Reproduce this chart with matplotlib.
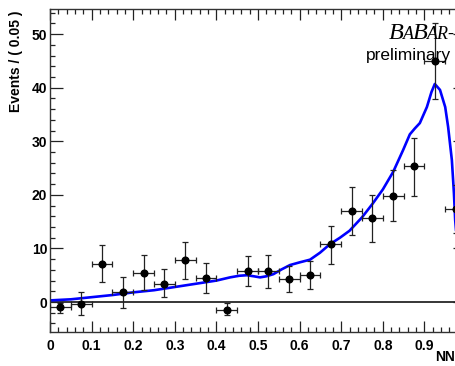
import numpy as np
import matplotlib
matplotlib.use('Agg')
import matplotlib.pyplot as plt
from matplotlib.ticker import MultipleLocator
from matplotlib.font_manager import FontProperties

# NN output bins (width 0.05) and measured events
nn_centres = [0.025, 0.075, 0.125, 0.175, 0.225, 0.275, 0.325, 0.375, 0.425, 0.475,
              0.525, 0.575, 0.625, 0.675, 0.725, 0.775, 0.825, 0.875, 0.925, 0.975]
events = [-1.0, -0.3, 7.1, 1.8, 5.4, 3.4, 7.8, 4.5, -1.5, 5.8,
          5.8, 4.3, 5.0, 10.8, 17.0, 15.7, 19.8, 25.3, 45.0, 17.3]
err_top = [-0.25, 1.8, 10.6, 4.7, 8.8, 6.1, 11.2, 7.3, -0.25, 8.6,
           8.8, 6.8, 7.6, 14.2, 21.5, 20.0, 24.6, 30.7, 52.1, 21.9]
err_bottom = [-2.0, -2.4, 3.7, -1.2, 2.2, 0.9, 4.3, 1.6, -2.4, 3.0,
              2.7, 1.8, 2.4, 7.1, 12.6, 11.2, 15.2, 19.8, 37.9, 12.9]
half_bin = 0.025

# fit curve
fit_x = [0.0, 0.05, 0.1, 0.15, 0.2, 0.25, 0.3, 0.35, 0.4, 0.433, 0.455, 0.473, 0.49,
         0.505, 0.52, 0.537, 0.557, 0.577, 0.6, 0.625, 0.649, 0.673, 0.697, 0.72,
         0.75, 0.775, 0.8, 0.825, 0.849, 0.865, 0.877, 0.889, 0.906, 0.917, 0.925,
         0.9375, 0.95, 0.957, 0.966, 0.971, 0.974, 0.985]
fit_y = [0.3, 0.5, 0.9, 1.3, 1.8, 2.2, 2.8, 3.4, 4.0, 4.6, 4.9, 5.0, 4.8,
         4.6, 4.8, 5.2, 6.1, 6.9, 7.4, 7.9, 9.2, 10.8, 12.0, 13.3,
         15.8, 18.3, 21.0, 24.3, 28.4, 31.3, 32.4, 33.4, 36.4, 39.2, 40.7,
         39.6, 36.4, 32.7, 26.5, 20.3, 15.3, 5.0]

W, H = 456, 366
fig = plt.figure(figsize=(W / 100, H / 100), dpi=100)
ax = fig.add_axes([50 / W, 34 / H, 416 / W, 323 / H])

lab_font = dict(family='Liberation Sans', weight='bold', size=10)

yerr = [np.array(events) - np.array(err_bottom), np.array(err_top) - np.array(events)]
ax.axhline(0, color='black', lw=1.1, zorder=1)
ax.plot(fit_x, fit_y, color='#0000ff', lw=1.9, zorder=2, solid_joinstyle='round')
ax.errorbar(nn_centres, events, xerr=half_bin, yerr=yerr, fmt='o', color='black',
            ecolor='#222222', elinewidth=0.9, capsize=2.2, capthick=0.9,
            markersize=4.8, zorder=3)

ax.set_xlim(0, 1)
ax.set_ylim(-5.6, 54.7)
ax.xaxis.set_minor_locator(MultipleLocator(0.02))
ax.yaxis.set_major_locator(MultipleLocator(10))
ax.yaxis.set_minor_locator(MultipleLocator(2))
ax.set_xticks(np.arange(0, 1.0, 0.1))
ax.set_xticklabels(['0', '0.1', '0.2', '0.3', '0.4', '0.5', '0.6', '0.7', '0.8', '0.9'])
ax.tick_params(which='both', direction='in', top=True, right=True, color='#222222', width=0.9)
ax.tick_params(axis='x', which='major', length=8, pad=5)
ax.tick_params(axis='y', which='major', length=9.3, pad=2)
ax.tick_params(which='minor', length=3.8)
for lbl in ax.get_xticklabels() + ax.get_yticklabels():
    lbl.set_fontproperties(FontProperties(**lab_font))
for sp in ax.spines.values():
    sp.set_color('#333333')
    sp.set_linewidth(1.0)

fig.text(16 / W, 1 - 10 / H, 'Events / ( 0.05 )', rotation=90, ha='center', va='top', **lab_font)
fig.text(455 / W, 1 - 357 / H, 'NN', ha='right', va='center', **lab_font)

# BaBar logo, built piece by piece
fig.canvas.draw()
renderer = fig.canvas.get_renderer()
x_px = 389
base_px = 39
for piece, size in [('B', 17.5), ('A', 13), ('B', 17.5), ('AR', 13), ('-', 13)]:
    t = fig.text(x_px / W, 1 - base_px / H, piece, fontsize=size, family='Liberation Serif',
                 style='italic', ha='left', va='baseline')
    x_px += t.get_window_extent(renderer).width - 1
fig.text(451 / W, 1 - 60 / H, 'preliminary', fontsize=12.5, family='Liberation Sans',
         ha='right', va='baseline')

fig.savefig('out.png', dpi=100)
